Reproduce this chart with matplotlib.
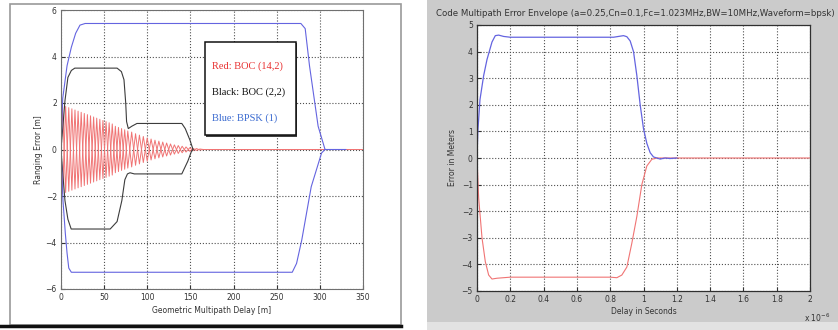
import matplotlib
matplotlib.use('Agg')
import matplotlib.pyplot as plt
from matplotlib.patches import Rectangle
from matplotlib.lines import Line2D

W, H = 838, 330

# ---------------- left chart: ranging error envelopes ----------------
# Blue: BPSK(1)
bpsk_up_x = [0, 2, 7, 12, 17, 22, 28, 278, 283, 288, 298, 306, 330]
bpsk_up_y = [0, 2.2, 3.6, 4.4, 5.0, 5.35, 5.42, 5.42, 5.2, 3.6, 1.0, 0.0, 0.0]
bpsk_lo_x = [0, 2.3, 5, 7, 9, 12, 268, 273, 279, 290, 302, 306]
bpsk_lo_y = [0, -2.2, -3.6, -4.45, -5.1, -5.28, -5.28, -4.9, -3.9, -1.6, -0.15, 0.0]

# Black: BOC(2,2)
boc22_up_x = [0, 4.6, 8, 12, 16, 65, 70, 73, 75, 76, 78, 82, 88, 140, 144, 149.5, 153]
boc22_up_y = [0, 2.1, 3.1, 3.4, 3.5, 3.5, 3.35, 3.0, 2.0, 1.2, 0.9, 1.0, 1.12, 1.12, 0.9, 0.4, 0.0]
boc22_lo_x = [0, 2, 4.6, 8, 11.8, 57, 65, 70.5, 74, 77, 80, 85, 140, 147, 151, 153]
boc22_lo_y = [0, -1.0, -2.2, -3.0, -3.42, -3.42, -3.1, -2.2, -1.3, -1.05, -1.0, -1.05, -1.05, -0.5, -0.1, 0.0]

# Red: BOC(14,2) - oscillating error (peaks), the other branch mirrors it
boc142_x = [0, 1.8, 5.4, 9.0, 12.6, 16.2, 19.8, 23.4, 27.0, 30.6, 34.2, 37.8,
            41.4, 45.0, 48.6, 52.2, 55.8, 59.4, 63.0, 66.6, 70.2, 73.8, 77.4,
            81.9, 86.4, 90.9, 95.4, 99.9, 104.4, 108.9, 113.4, 117.9, 122.4,
            126.9, 131.4, 135.9, 140.4, 144.9, 149.4, 153, 157, 161, 165, 350]
boc142_y = [0, 1.9, -1.85, 1.8, -1.75, 1.7, -1.65, 1.6, -1.55, 1.5, -1.45, 1.4,
            -1.35, 1.3, -1.25, 1.2, -1.15, 1.1, -1.0, 0.95, -0.9, 0.85, -0.8,
            0.75, -0.68, 0.62, -0.56, 0.5, -0.45, 0.4, -0.36, 0.32, -0.28,
            0.24, -0.2, 0.17, -0.14, 0.11, -0.08, 0.05, -0.04, 0.02, 0, 0]

left_xticks = [0, 50, 100, 150, 200, 250, 300, 350]
left_yticks = [-6, -4, -2, 0, 2, 4, 6]
legend_lines = ['Red: BOC (14,2)', 'Black: BOC (2,2)', 'Blue: BPSK (1)']

# ---------------- right chart: code multipath error envelope ----------------
env_up_x = [0, 0.005, 0.018, 0.04, 0.06, 0.09, 0.11, 0.13, 0.16, 0.2, 0.5, 0.82,
            0.86, 0.88, 0.9, 0.92, 0.94, 0.96, 0.98, 1.0, 1.02, 1.04, 1.06,
            1.08, 1.1, 1.13, 1.16, 1.2]
env_up_y = [0, 1.0, 2.2, 3.1, 3.7, 4.36, 4.6, 4.62, 4.57, 4.54, 4.54, 4.54,
            4.58, 4.6, 4.56, 4.4, 4.0, 3.1, 2.0, 1.1, 0.55, 0.2, 0.04,
            0.0, -0.04, 0.0, -0.02, 0.0]
env_lo_x = [0, 0.01, 0.03, 0.05, 0.07, 0.09, 0.12, 0.16, 0.2, 0.5, 0.8, 0.84,
            0.87, 0.9, 0.93, 0.96, 0.99, 1.02, 1.05, 1.08, 1.2, 2.0]
env_lo_y = [0, -1.5, -3.0, -3.9, -4.4, -4.55, -4.52, -4.5, -4.48, -4.48, -4.48,
            -4.5, -4.4, -4.1, -3.2, -2.2, -1.0, -0.3, -0.05, 0, 0, 0]

right_xticks = [0, 0.2, 0.4, 0.6, 0.8, 1, 1.2, 1.4, 1.6, 1.8, 2]
right_xlabels = ['0', '0.2', '0.4', '0.6', '0.8', '1', '1.2', '1.4', '1.6', '1.8', '2']
right_yticks = [-5, -4, -3, -2, -1, 0, 1, 2, 3, 4, 5]
right_title = ('Code Multipath Error Envelope (a=0.25,Cn=0.1,Fc=1.023MHz,'
               'BW=10MHz,Waveform=bpsk)')

RED = '#f07474'
BLUE = '#6464e0'
BLACK = '#3c3c3c'
TXT = '#333333'


def box(px0, py0, px1, py1):
    # pixel box (top-left origin) -> figure fraction [left, bottom, width, height]
    return [px0 / W, 1 - py1 / H, (px1 - px0) / W, (py1 - py0) / H]


fig = plt.figure(figsize=(W / 100, H / 100), dpi=100)
fig.patch.set_facecolor('white')

# background panels of the two screenshots
fig.add_artist(Rectangle((427 / W, 1 - 322 / H), 1 - 427 / W, 322 / H,
                         transform=fig.transFigure, facecolor='#cbcbcb',
                         edgecolor='none', zorder=-2))
fig.add_artist(Rectangle((427 / W, 0), 1 - 427 / W, 1 - 322 / H,
                         transform=fig.transFigure, facecolor='#e2e2e2',
                         edgecolor='none', zorder=-2))
fig.add_artist(Rectangle((10 / W, 1 - 325 / H), 391 / W, 321 / H,
                         transform=fig.transFigure, facecolor='white',
                         edgecolor='#9a9a9a', lw=1.2, zorder=-1))
fig.add_artist(Line2D([0, 401 / W], [1 - 326 / H, 1 - 326 / H],
                      transform=fig.transFigure, color='#101010', lw=2.5))

# ---- left axes ----
ax1 = fig.add_axes(box(61, 10, 363, 289))
ax1.plot(boc142_x, boc142_y, color=RED, lw=0.7)
ax1.plot(boc142_x, [-v for v in boc142_y], color=RED, lw=0.7)
ax1.plot(boc22_up_x, boc22_up_y, color=BLACK, lw=0.8)
ax1.plot(boc22_lo_x, boc22_lo_y, color=BLACK, lw=0.8)
ax1.plot(bpsk_up_x, bpsk_up_y, color=BLUE, lw=0.8)
ax1.plot(bpsk_lo_x, bpsk_lo_y, color=BLUE, lw=0.8)
ax1.set_xlim(0, 350)
ax1.set_ylim(-6, 6)
ax1.set_xticks(left_xticks)
ax1.set_yticks(left_yticks)
ax1.tick_params(direction='in', labelsize=5.5, length=3, colors=TXT, pad=3)
ax1.grid(True, linestyle=':', color='#505050', lw=0.8)
for s in ax1.spines.values():
    s.set_color('#707070')
    s.set_linewidth(0.8)
ax1.set_xlabel('Geometric Multipath Delay [m]', fontsize=5.5, color=TXT, labelpad=3)
ax1.set_ylabel('Ranging Error [m]', fontsize=5.5, color=TXT, labelpad=2)

# legend box drawn as text lines
ax1.add_patch(Rectangle((0.481, 0.545), 0.302, 0.337, transform=ax1.transAxes,
                        facecolor='#404040', edgecolor='none', zorder=4))
ax1.add_patch(Rectangle((0.477, 0.552), 0.302, 0.333, transform=ax1.transAxes,
                        facecolor='white', edgecolor='#111111', lw=1.1, zorder=5))
for txt, col, yy in zip(legend_lines, ['#e83030', '#111111', '#3a6ad0'],
                        [0.80, 0.705, 0.612]):
    ax1.text(0.50, yy, txt, transform=ax1.transAxes, color=col, fontsize=7.5,
             family='Liberation Serif', va='center', ha='left', zorder=6)

# ---- right axes ----
ax2 = fig.add_axes(box(477, 25, 810, 291))
ax2.set_facecolor('white')
ax2.plot(env_lo_x, env_lo_y, color=RED, lw=0.8)
ax2.plot(env_up_x, env_up_y, color=BLUE, lw=0.9)
ax2.set_xlim(0, 2)
ax2.set_ylim(-5, 5)
ax2.set_xticks(right_xticks)
ax2.set_xticklabels(right_xlabels)
ax2.set_yticks(right_yticks)
ax2.tick_params(direction='in', labelsize=5.5, length=3, colors=TXT, pad=3)
ax2.grid(True, linestyle=':', color='#505050', lw=0.8)
for s in ax2.spines.values():
    s.set_color('#303030')
    s.set_linewidth(0.9)
ax2.set_xlabel('Delay in Seconds', fontsize=5.5, color=TXT, labelpad=2)
ax2.set_ylabel('Error in Meters', fontsize=5.5, color=TXT, labelpad=3)
fig.text(436 / W, 1 - 13 / H, right_title, fontsize=6.2, color=TXT,
         ha='left', va='center')
fig.text(804 / W, 1 - 318 / H, r'x 10$^{-6}$', fontsize=5.5, color=TXT,
         ha='left', va='center')

fig.savefig('out.png', dpi=100)
